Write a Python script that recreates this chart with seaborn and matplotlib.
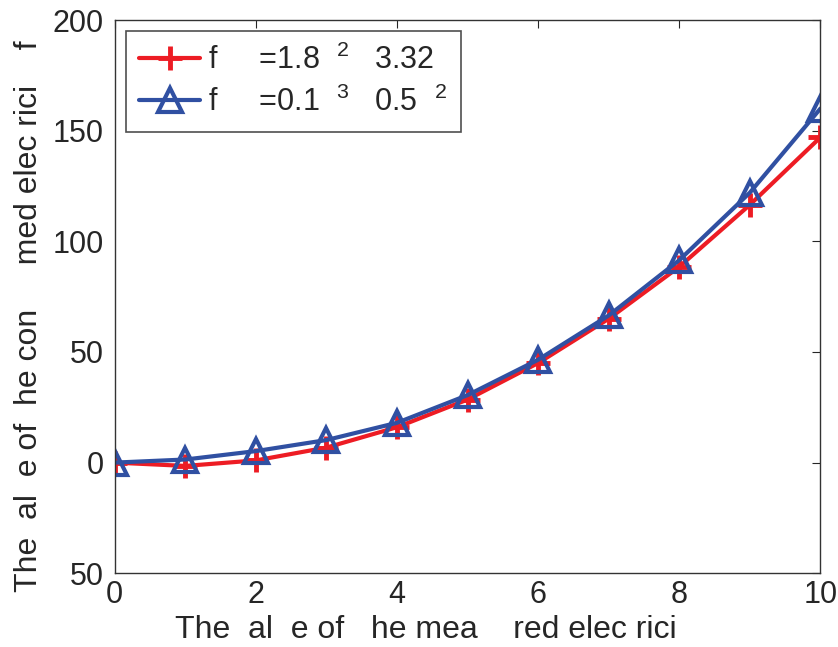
import numpy as np
import pandas as pd
import matplotlib
matplotlib.use("Agg")
import matplotlib.pyplot as plt
import seaborn as sns

# values
x_vals = [0, 1, 2, 3, 4, 5, 6, 7, 8, 9, 10]
red_vals = [0, -1.5, 1.0, 6.8, 16.0, 28.5, 45.0, 65.0, 88.5, 116.5, 147.0]
blue_vals = [0, 1.4, 5.2, 10.2, 18.0, 30.5, 46.5, 66.5, 91.5, 122.0, 160.0]
red_label = r"f     =1.8  $^{2}$   3.32"
blue_label = r"f     =0.1  $^{3}$   0.5  $^{2}$"
x_ticks = [0, 2, 4, 6, 8, 10]
y_ticks = [-50, 0, 50, 100, 150, 200]
y_tick_labels = ["50", "0", "50", "100", "150", "200"]
x_label = "The  al  e of   he mea    red elec rici"
y_label = "The  al  e of  he con     med elec rici    f"

sns.set_style("white")
plt.rcParams['font.family'] = ['Liberation Sans', 'DejaVu Sans']
plt.rcParams['mathtext.fontset'] = 'custom'
plt.rcParams['mathtext.rm'] = 'Liberation Sans'
plt.rcParams['mathtext.it'] = 'Liberation Sans'
plt.rcParams['mathtext.default'] = 'regular'
plt.rcParams['xtick.direction'] = 'in'
plt.rcParams['ytick.direction'] = 'in'

RED = "#ED1C24"
BLUE = "#3050A2"

df = pd.DataFrame({"x": x_vals, "red": red_vals, "blue": blue_vals})

fig = plt.figure(figsize=(8.38, 6.47), dpi=100)
ax = fig.add_axes([0.137, 0.114, 0.842, 0.855])

sns.lineplot(data=df, x="x", y="red", ax=ax, color=RED, linewidth=3,
             marker="+", markersize=17, markeredgewidth=3.5,
             markeredgecolor=RED, label=red_label)
sns.lineplot(data=df, x="x", y="blue", ax=ax, color=BLUE, linewidth=3,
             marker="^", markersize=17, markeredgewidth=3,
             markerfacecolor="none", markeredgecolor=BLUE, label=blue_label)

ax.set_xlim(0, 10)
ax.set_ylim(-50, 200)
ax.set_xticks(x_ticks)
ax.set_yticks(y_ticks)
ax.set_yticklabels(y_tick_labels)
ax.tick_params(labelsize=22, length=6, width=0.8, top=True, right=True)
ax.tick_params(axis="x", pad=5)
ax.tick_params(axis="y", pad=8)
for s in ax.spines.values():
    s.set_color("#333333")
    s.set_linewidth(1.0)

ax.set_xlabel(x_label, fontsize=23, ha="left", va="top")
ax.xaxis.set_label_coords(0.085, -0.076)
ax.set_ylabel(y_label, fontsize=23, ha="left", va="bottom")
ax.yaxis.set_label_coords(-0.101, -0.034)

leg = ax.legend(loc="upper left", fontsize=22, frameon=True, fancybox=False,
                edgecolor="#222222", handlelength=2.0, handletextpad=0.25,
                borderpad=0.45, labelspacing=0.35, borderaxespad=0.35)
leg.get_frame().set_linewidth(1.2)

fig.savefig("out.png", dpi=100)
